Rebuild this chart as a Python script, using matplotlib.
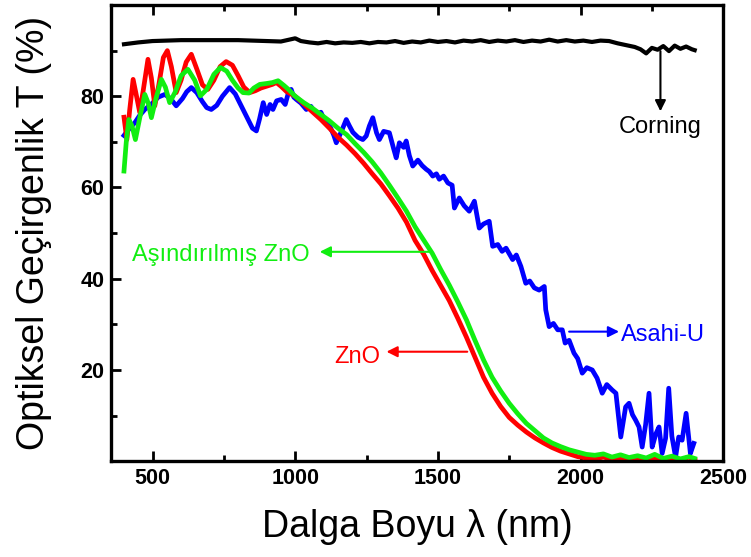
import matplotlib
matplotlib.use("Agg")
import matplotlib.pyplot as plt
from matplotlib.ticker import MultipleLocator

plt.rcParams['font.family'] = ['Liberation Sans', 'DejaVu Sans']

# Corning glass (black)
bk_x = [400, 450, 500, 550, 600, 650, 700, 750, 800, 850,
        900, 950, 1000, 1020, 1050, 1080, 1110, 1140, 1170, 1200,
        1230, 1260, 1290, 1320, 1350, 1380, 1410, 1440, 1470, 1500,
        1530, 1560, 1590, 1620, 1650, 1680, 1710, 1740, 1770, 1800,
        1830, 1860, 1890, 1920, 1950, 1980, 2010, 2040, 2070, 2100,
        2130, 2160, 2190, 2210, 2230, 2250, 2270, 2290, 2310, 2330,
        2350, 2370, 2390, 2400]
bk_y = [91.4, 91.8, 92.1, 92.2, 92.3, 92.3, 92.3, 92.3, 92.3, 92.2,
        92.1, 92.0, 92.7, 92.1, 91.8, 91.6, 91.9, 91.6, 91.8, 91.7,
        91.9, 91.6, 91.9, 91.8, 92.1, 91.7, 92.0, 91.8, 92.2, 91.9,
        92.1, 91.8, 92.2, 92.0, 92.3, 91.9, 92.2, 92.0, 92.3, 91.9,
        92.2, 92.0, 92.4, 92.0, 92.3, 92.0, 92.2, 91.9, 92.2, 92.1,
        91.6, 91.2, 90.8, 90.3, 89.4, 90.6, 90.2, 91.0, 89.9, 91.1,
        90.4, 90.9, 90.3, 90.1]

# Asahi-U (blue)
bl_x = [400, 420, 438, 455, 473, 500, 520, 543, 563, 583,
        605, 620, 636, 655, 675, 690, 706, 725, 745, 770,
        790, 810, 830, 850, 864, 875, 888, 900, 912, 922,
        935, 951, 965, 975, 986, 995, 1004, 1020, 1039, 1055,
        1074, 1090, 1105, 1121, 1135, 1144, 1160, 1179, 1190, 1202,
        1220, 1237, 1249, 1260, 1272, 1285, 1295, 1310, 1330, 1345,
        1354, 1365, 1380, 1389, 1400, 1412, 1430, 1445, 1459, 1470,
        1482, 1495, 1505, 1520, 1535, 1550, 1558, 1575, 1592, 1610,
        1628, 1645, 1660, 1680, 1692, 1710, 1725, 1739, 1762, 1775,
        1791, 1808, 1822, 1838, 1855, 1873, 1878, 1890, 1905, 1920,
        1936, 1946, 1960, 1977, 1990, 2006, 2022, 2041, 2058, 2076,
        2092, 2111, 2124, 2141, 2158, 2170, 2182, 2193, 2205, 2216,
        2228, 2240, 2251, 2264, 2275, 2286, 2298, 2309, 2320, 2333,
        2344, 2356, 2370, 2385, 2397]
bl_y = [71.4, 73.0, 74.2, 75.8, 77.1, 78.5, 79.8, 80.4, 79.5, 77.9,
        79.5, 81.0, 81.9, 80.8, 78.8, 77.5, 77.1, 78.0, 80.0, 81.9,
        80.5, 78.0, 75.5, 73.0, 72.4, 75.0, 78.6, 76.0, 78.2, 77.1,
        79.0, 79.3, 78.2, 80.5, 81.5, 79.8, 79.3, 78.5, 77.1, 77.8,
        76.0, 76.5, 74.5, 73.5, 71.5, 69.8, 72.0, 74.9, 73.5, 72.1,
        71.0, 70.5, 71.3, 73.5, 75.3, 72.0, 70.5, 72.3, 72.0, 68.5,
        66.5, 69.8, 68.8, 70.2, 67.0, 64.7, 66.0, 64.8, 64.0, 63.5,
        62.5, 63.0, 61.8, 62.5, 61.0, 60.5, 55.5, 57.7, 56.0, 54.8,
        57.0, 51.1, 52.0, 52.6, 47.1, 47.5, 46.0, 46.7, 44.2, 45.2,
        42.7, 39.0, 39.5, 38.0, 37.5, 38.3, 33.2, 29.5, 30.2, 28.8,
        28.8, 25.9, 26.5, 23.7, 22.5, 19.3, 20.5, 20.0, 18.2, 14.9,
        16.8, 15.6, 14.9, 5.3, 11.9, 12.7, 10.2, 9.0, 7.5, 3.1,
        8.0, 14.9, 3.1, 6.0, 7.5, 1.7, 5.0, 16.0, 5.5, 0.9,
        5.3, 4.6, 10.5, 1.7, 3.9]

# ZnO (red)
rd_x = [400, 410, 420, 432, 444, 455, 468, 484, 496, 508,
        522, 538, 552, 566, 583, 600, 618, 636, 655, 675,
        694, 715, 737, 758, 780, 800, 820, 841, 860, 880,
        900, 920, 934, 950, 970, 1000, 1030, 1060, 1090, 1120,
        1150, 1180, 1210, 1240, 1270, 1300, 1330, 1360, 1390, 1420,
        1450, 1480, 1510, 1540, 1570, 1600, 1630, 1660, 1690, 1720,
        1750, 1780, 1810, 1840, 1870, 1900, 1930, 1960, 1990, 2020,
        2050, 2080, 2110, 2140, 2170, 2200, 2230, 2260, 2290, 2320,
        2350, 2380, 2400]
rd_y = [75.4, 70.5, 77.0, 83.7, 80.0, 76.5, 81.5, 88.1, 84.0, 77.9,
        82.5, 88.5, 90.0, 86.5, 80.8, 83.5, 87.5, 89.2, 86.0, 82.5,
        81.5, 83.5, 86.5, 87.6, 86.8, 84.5, 82.0, 80.8, 81.2, 81.8,
        82.2, 82.6, 83.0, 82.2, 81.0, 80.0, 78.3, 76.6, 74.9, 73.0,
        71.0, 69.3, 67.4, 65.3, 63.0, 60.8, 58.2, 55.5, 52.4, 48.4,
        45.4, 41.8, 38.5, 35.2, 31.3, 27.2, 22.8, 18.4, 14.9, 12.0,
        9.6, 7.9, 6.4, 5.1, 4.0, 3.0, 2.2, 1.6, 1.0, 0.7,
        0.5, 0.9, 0.4, 0.8, 0.3, 0.7, 0.2, 0.6, 0.3, 0.5,
        0.2, 0.9, 0.3]

# etched ZnO (green)
gr_x = [400, 408, 417, 428, 440, 456, 473, 485, 496, 512,
        531, 545, 560, 580, 600, 624, 648, 668, 690, 715,
        738, 760, 780, 800, 817, 838, 855, 876, 900, 920,
        940, 960, 980, 1000, 1030, 1060, 1090, 1120, 1150, 1180,
        1210, 1240, 1270, 1300, 1330, 1360, 1390, 1420, 1450, 1480,
        1510, 1540, 1570, 1600, 1630, 1660, 1690, 1720, 1750, 1780,
        1810, 1840, 1870, 1900, 1930, 1960, 1990, 2020, 2050, 2080,
        2110, 2140, 2170, 2200, 2230, 2260, 2290, 2320, 2350, 2380,
        2400]
gr_y = [63.6, 70.0, 74.9, 73.5, 70.5, 75.5, 80.4, 78.5, 75.3, 79.5,
        83.7, 82.0, 78.6, 81.0, 84.5, 85.9, 83.5, 80.1, 81.5, 84.8,
        86.3, 85.5, 83.5, 81.8, 80.8, 80.7, 81.8, 82.6, 82.8, 83.0,
        83.4, 82.4, 81.3, 80.0, 78.6, 77.4, 76.0, 74.6, 73.0, 71.6,
        69.6, 67.7, 65.6, 63.2, 60.5, 57.7, 54.8, 51.4, 48.5, 45.6,
        42.0, 38.6, 34.9, 31.0, 26.5, 22.2, 18.4, 15.4, 12.7, 10.4,
        8.3, 6.7, 5.1, 4.0, 3.2, 2.5, 2.0, 1.5, 1.3, 1.6,
        0.9, 1.4, 0.8, 1.2, 0.7, 1.5, 0.6, 1.1, 0.5, 1.0,
        0.6]

fig = plt.figure(figsize=(7.51, 5.57), dpi=100)
ax = fig.add_axes([0.148, 0.172, 0.815, 0.819])

lw = 3.4
ax.plot(bk_x, bk_y, color='black', lw=3.0)
ax.plot(bl_x, bl_y, color='#0000ff', lw=lw)
ax.plot(rd_x, rd_y, color='#ff0000', lw=lw)
ax.plot(gr_x, gr_y, color='#11ee11', lw=lw)

ax.set_xlim(355, 2500)
ax.set_ylim(0, 100)
ax.xaxis.set_major_locator(MultipleLocator(500))
ax.xaxis.set_minor_locator(MultipleLocator(250))
ax.set_yticks([20, 40, 60, 80])
ax.yaxis.set_minor_locator(MultipleLocator(10))

for s in ax.spines.values():
    s.set_linewidth(2.4)
ax.tick_params(which='both', direction='in', top=True, right=False, width=2)
ax.tick_params(which='major', length=7, labelsize=15.5, pad=5)
ax.tick_params(which='minor', length=4)
for lab in ax.get_xticklabels() + ax.get_yticklabels():
    lab.set_fontweight('bold')

ax.set_xlabel('Dalga Boyu λ (nm)', fontsize=27, labelpad=14)
ax.set_ylabel('Optiksel Geçirgenlik T (%)', fontsize=27, labelpad=20)

# annotations with arrows
arr = dict(arrowstyle='-|>', lw=1.5, mutation_scale=16, shrinkA=0, shrinkB=0)
ax.annotate('', xy=(2280, 76.7), xytext=(2280, 89.9), arrowprops=dict(arr, color='black'))
ax.text(2278, 73.2, 'Corning', color='black', fontsize=17, ha='center', va='center')

ax.annotate('', xy=(1086, 45.9), xytext=(1477, 45.9), arrowprops=dict(arr, color='#11ee11'))
ax.text(740, 45.3, 'Aşındırılmış ZnO', color='#11ee11', fontsize=17, ha='center', va='center')

ax.annotate('', xy=(1320, 24.0), xytext=(1603, 24.0), arrowprops=dict(arr, color='#ff0000'))
ax.text(1217, 22.9, 'ZnO', color='#ff0000', fontsize=17, ha='center', va='center')

ax.annotate('', xy=(2135, 28.4), xytext=(1960, 28.4), arrowprops=dict(arr, color='#0000ff'))
ax.text(2290, 27.7, 'Asahi-U', color='#0000ff', fontsize=17, ha='center', va='center')

fig.savefig('out.png', dpi=100)
